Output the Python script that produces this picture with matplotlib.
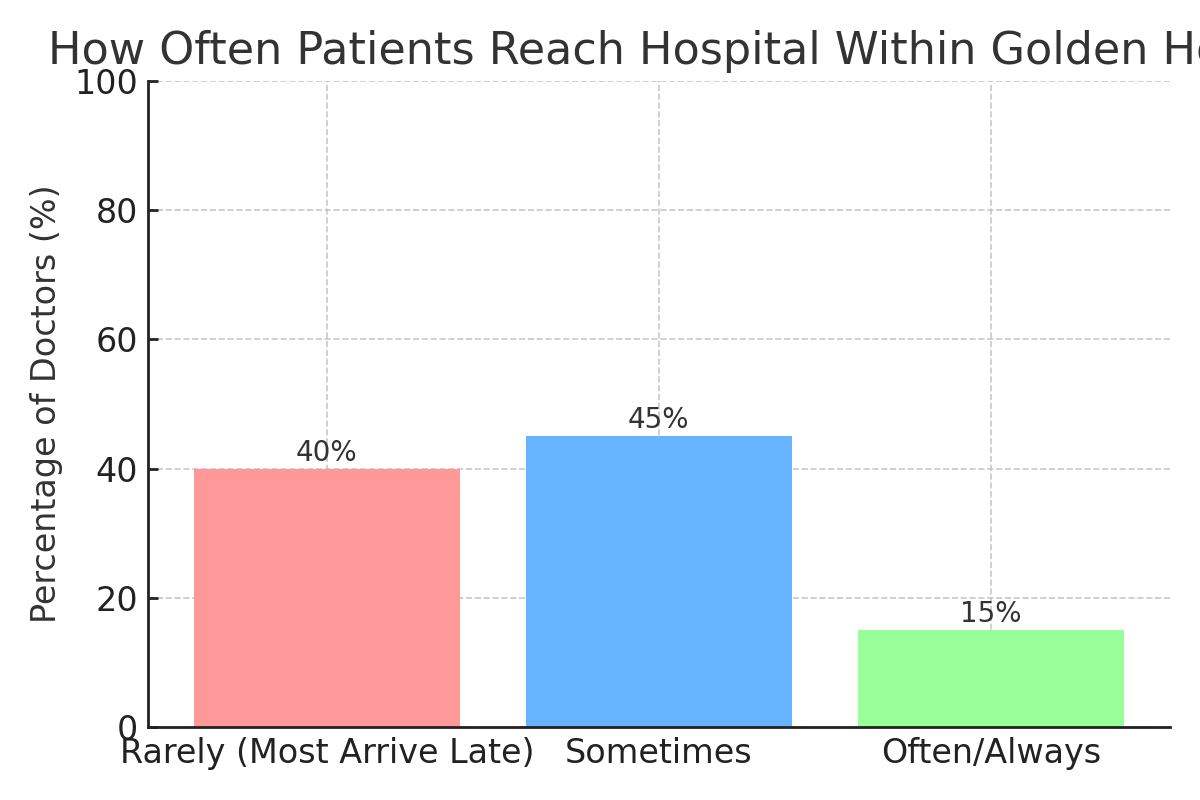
import matplotlib.pyplot as plt

categories = ["Rarely (Most Arrive Late)", "Sometimes", "Often/Always"]
percentages = [40, 45, 15]
bar_colors = ["#ff9999", "#66b3ff", "#99ff99"]

plt.rcParams["font.family"] = "DejaVu Sans"
plt.rcParams["text.color"] = "#333333"
plt.rcParams["axes.labelcolor"] = "#333333"
plt.rcParams["xtick.color"] = "#222222"
plt.rcParams["ytick.color"] = "#222222"

fig, ax = plt.subplots(figsize=(6, 4), dpi=200)
bars = ax.bar(categories, percentages, color=bar_colors, width=0.8, zorder=2)

for b, v in zip(bars, percentages):
    ax.text(b.get_x() + b.get_width() / 2, v + 0.3, f"{v}%",
            ha="center", va="bottom", fontsize=10, color="#333333", zorder=3)

ax.set_ylim(0, 100)
ax.set_ylabel("Percentage of Doctors (%)", fontsize=12)
ax.set_title("How Often Patients Reach Hospital Within Golden Hour", fontsize=16, color="#333333")
ax.tick_params(axis="both", labelsize=12, direction="in", length=3.5, width=1.0, pad=3.5)
ax.grid(True, linestyle="--", color="#bbbbbb", alpha=0.8, linewidth=0.6, zorder=0)
ax.set_axisbelow(True)
for s in ["top", "right"]:
    ax.spines[s].set_visible(False)
for s in ["left", "bottom"]:
    ax.spines[s].set_linewidth(1.0)
    ax.spines[s].set_color("#222222")

fig.subplots_adjust(left=0.123, right=0.975, top=0.899, bottom=0.091)
fig.savefig("out.png", dpi=200)
